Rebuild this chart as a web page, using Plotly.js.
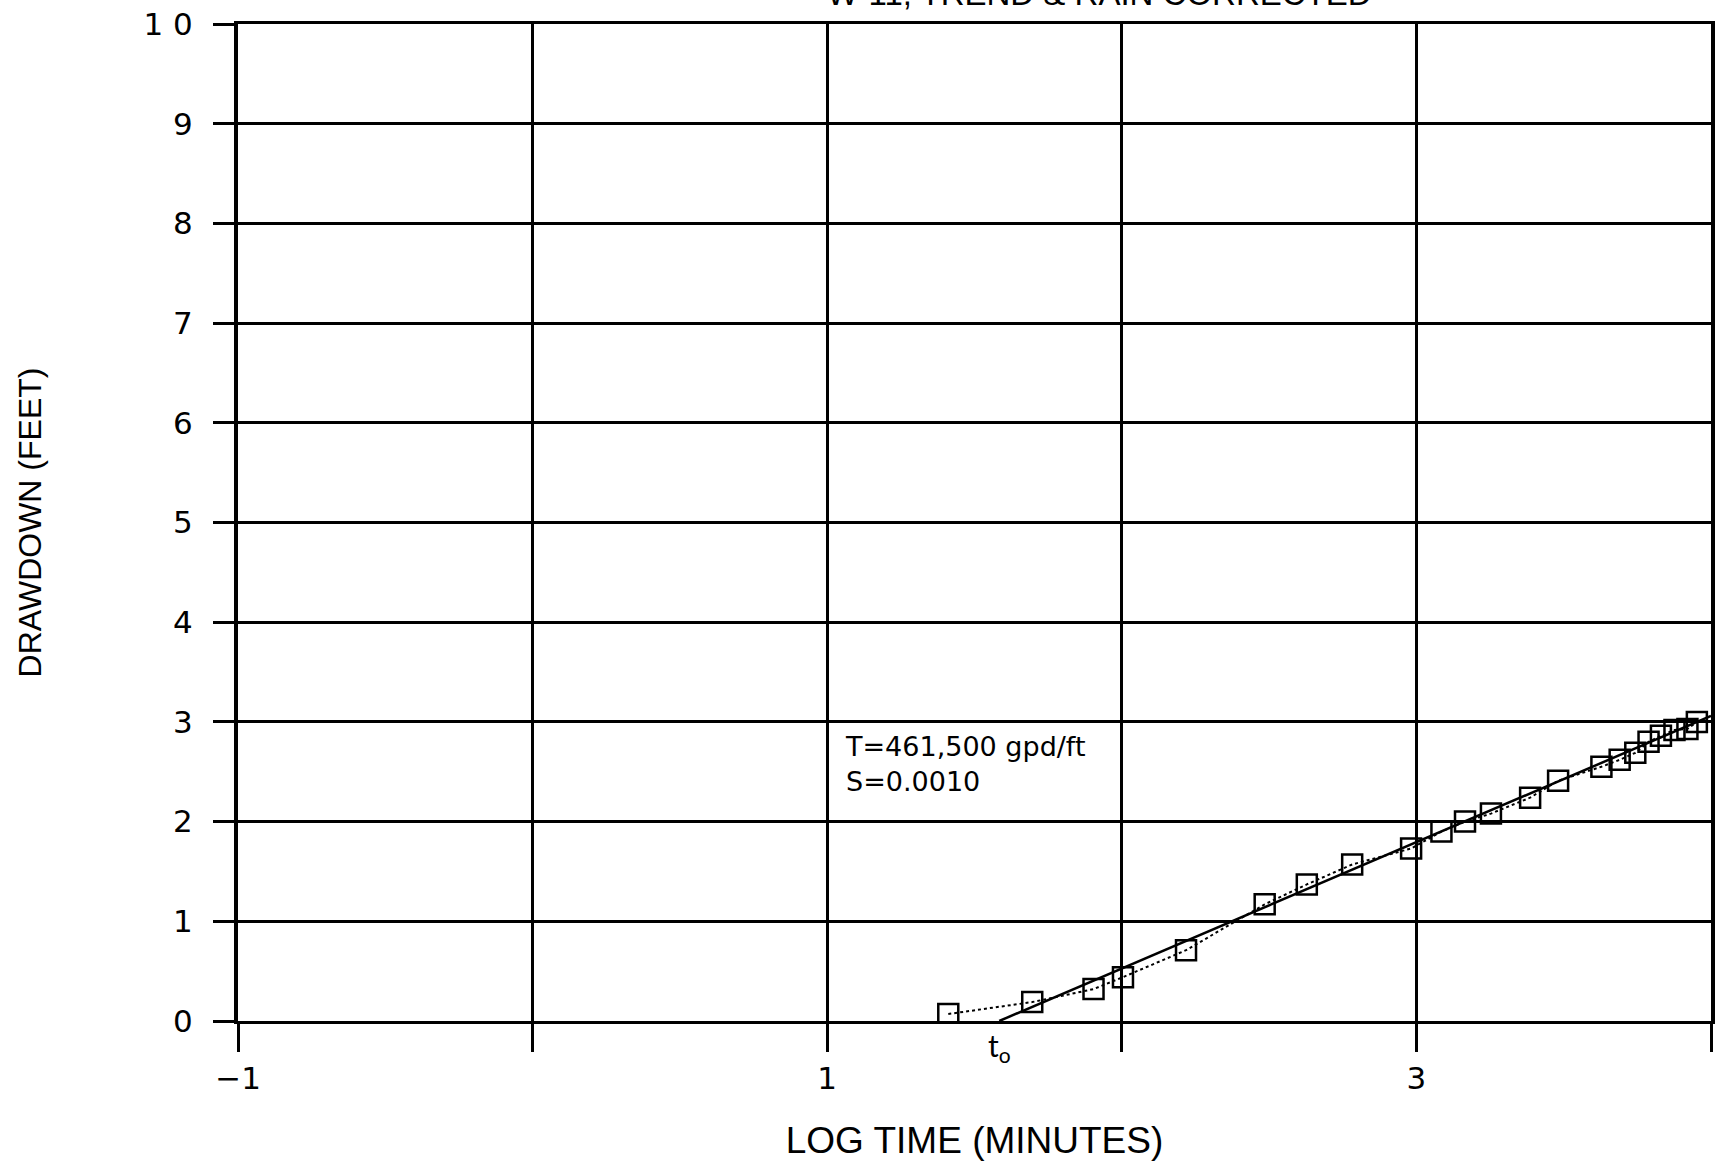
<!DOCTYPE html>
<html>
<head>
<meta charset="utf-8">
<script src="https://cdn.plot.ly/plotly-3.0.1.min.js"></script>
<style>html,body{margin:0;padding:0;background:#fff;}#chart{width:1716px;height:1161px;}</style>
</head>
<body>
<div id="chart"></div>
<script>
// Observed drawdown points (log time in minutes, drawdown in feet)
const logTime = [1.411, 1.696, 1.904, 2.004, 2.218, 2.485, 2.628, 2.782, 2.982, 3.085, 3.165, 3.253, 3.386, 3.481, 3.628, 3.690, 3.743, 3.788, 3.830, 3.876, 3.920, 3.952];
const drawdown = [0.07, 0.19, 0.32, 0.44, 0.71, 1.17, 1.37, 1.57, 1.73, 1.90, 2.00, 2.08, 2.24, 2.41, 2.55, 2.62, 2.69, 2.80, 2.86, 2.92, 2.93, 3.00];
// Straight-line fit (Cooper-Jacob)
const fitX = [1.584, 4.0];
const fitY = [0.0, 3.06];
// Axis ticks
const xTickVals = [-1, 1, 3];
const xTickText = ['\u22121', '1', '3'];
const xMinorVals = [0, 2, 4];
const yTickVals = [0, 1, 2, 3, 4, 5, 6, 7, 8, 9, 10];
const yTickText = ['0', '1', '2', '3', '4', '5', '6', '7', '8', '9', '1 0'];

const traces = [
  {x: logTime, y: drawdown, mode: 'lines', line: {color: '#000', width: 2, dash: 'dot'}, hoverinfo: 'skip', showlegend: false},
  {x: fitX, y: fitY, mode: 'lines', line: {color: '#000', width: 2.5}, showlegend: false},
  {x: logTime, y: drawdown, mode: 'markers', marker: {symbol: 'square-open', size: 20, color: '#000', line: {width: 2.5, color: '#000'}}, showlegend: false}
];

const layout = {
  width: 1716, height: 1161,
  margin: {l: 238, r: 5, t: 24, b: 140},
  paper_bgcolor: '#fff', plot_bgcolor: '#fff',
  showlegend: false,
  xaxis: {
    range: [-1, 4], tickvals: xTickVals, ticktext: xTickText,
    showgrid: true, gridcolor: '#000', gridwidth: 3,
    minor: {tickvals: xMinorVals, showgrid: true, gridcolor: '#000', gridwidth: 3, ticks: 'outside', ticklen: 28, tickwidth: 3, tickcolor: '#000'},
    zeroline: false, showline: true, mirror: true, linecolor: '#000', linewidth: 3,
    ticks: 'outside', ticklen: 28, tickwidth: 3, tickcolor: '#000',
    tickfont: {family: 'DejaVu Sans', size: 31, color: '#000'},
    ticklabelstandoff: 0,
    title: {text: 'LOG TIME (MINUTES)', font: {family: 'Liberation Sans', size: 37, color: '#000'}, standoff: 40}
  },
  yaxis: {
    range: [0, 10], tickvals: yTickVals, ticktext: yTickText,
    showgrid: true, gridcolor: '#000', gridwidth: 3,
    zeroline: false, showline: true, mirror: true, linecolor: '#000', linewidth: 4,
    ticks: 'outside', ticklen: 21, tickwidth: 3, tickcolor: '#000',
    tickfont: {family: 'DejaVu Sans', size: 31, color: '#000'},
    ticklabelstandoff: 14,
    title: {text: 'DRAWDOWN (FEET)', font: {family: 'Liberation Sans', size: 32, color: '#000'}, standoff: 93}
  },
  annotations: [
    {x: 1.054, y: 2.58, xref: 'x', yref: 'y', xanchor: 'left', yanchor: 'middle', align: 'left', showarrow: false,
     text: 'T=461,500 gpd/ft<br>S=0.0010', font: {family: 'DejaVu Sans', size: 27, color: '#000'}},
    {x: 1.584, y: 0, xref: 'x', yref: 'y', xanchor: 'center', yanchor: 'top', yshift: -4, showarrow: false,
     text: 't<sub>o</sub>', font: {family: 'Lato', size: 30, color: '#000'}},
    {x: 0.585, y: 1, xref: 'paper', yref: 'paper', xanchor: 'center', yanchor: 'bottom', yshift: 10, showarrow: false,
     text: 'W-11, TREND &amp; RAIN CORRECTED', font: {family: 'Liberation Sans', size: 33, color: '#000'}}
  ]
};

Plotly.newPlot('chart', traces, layout, {displayModeBar: false, staticPlot: true});
</script>
</body>
</html>
